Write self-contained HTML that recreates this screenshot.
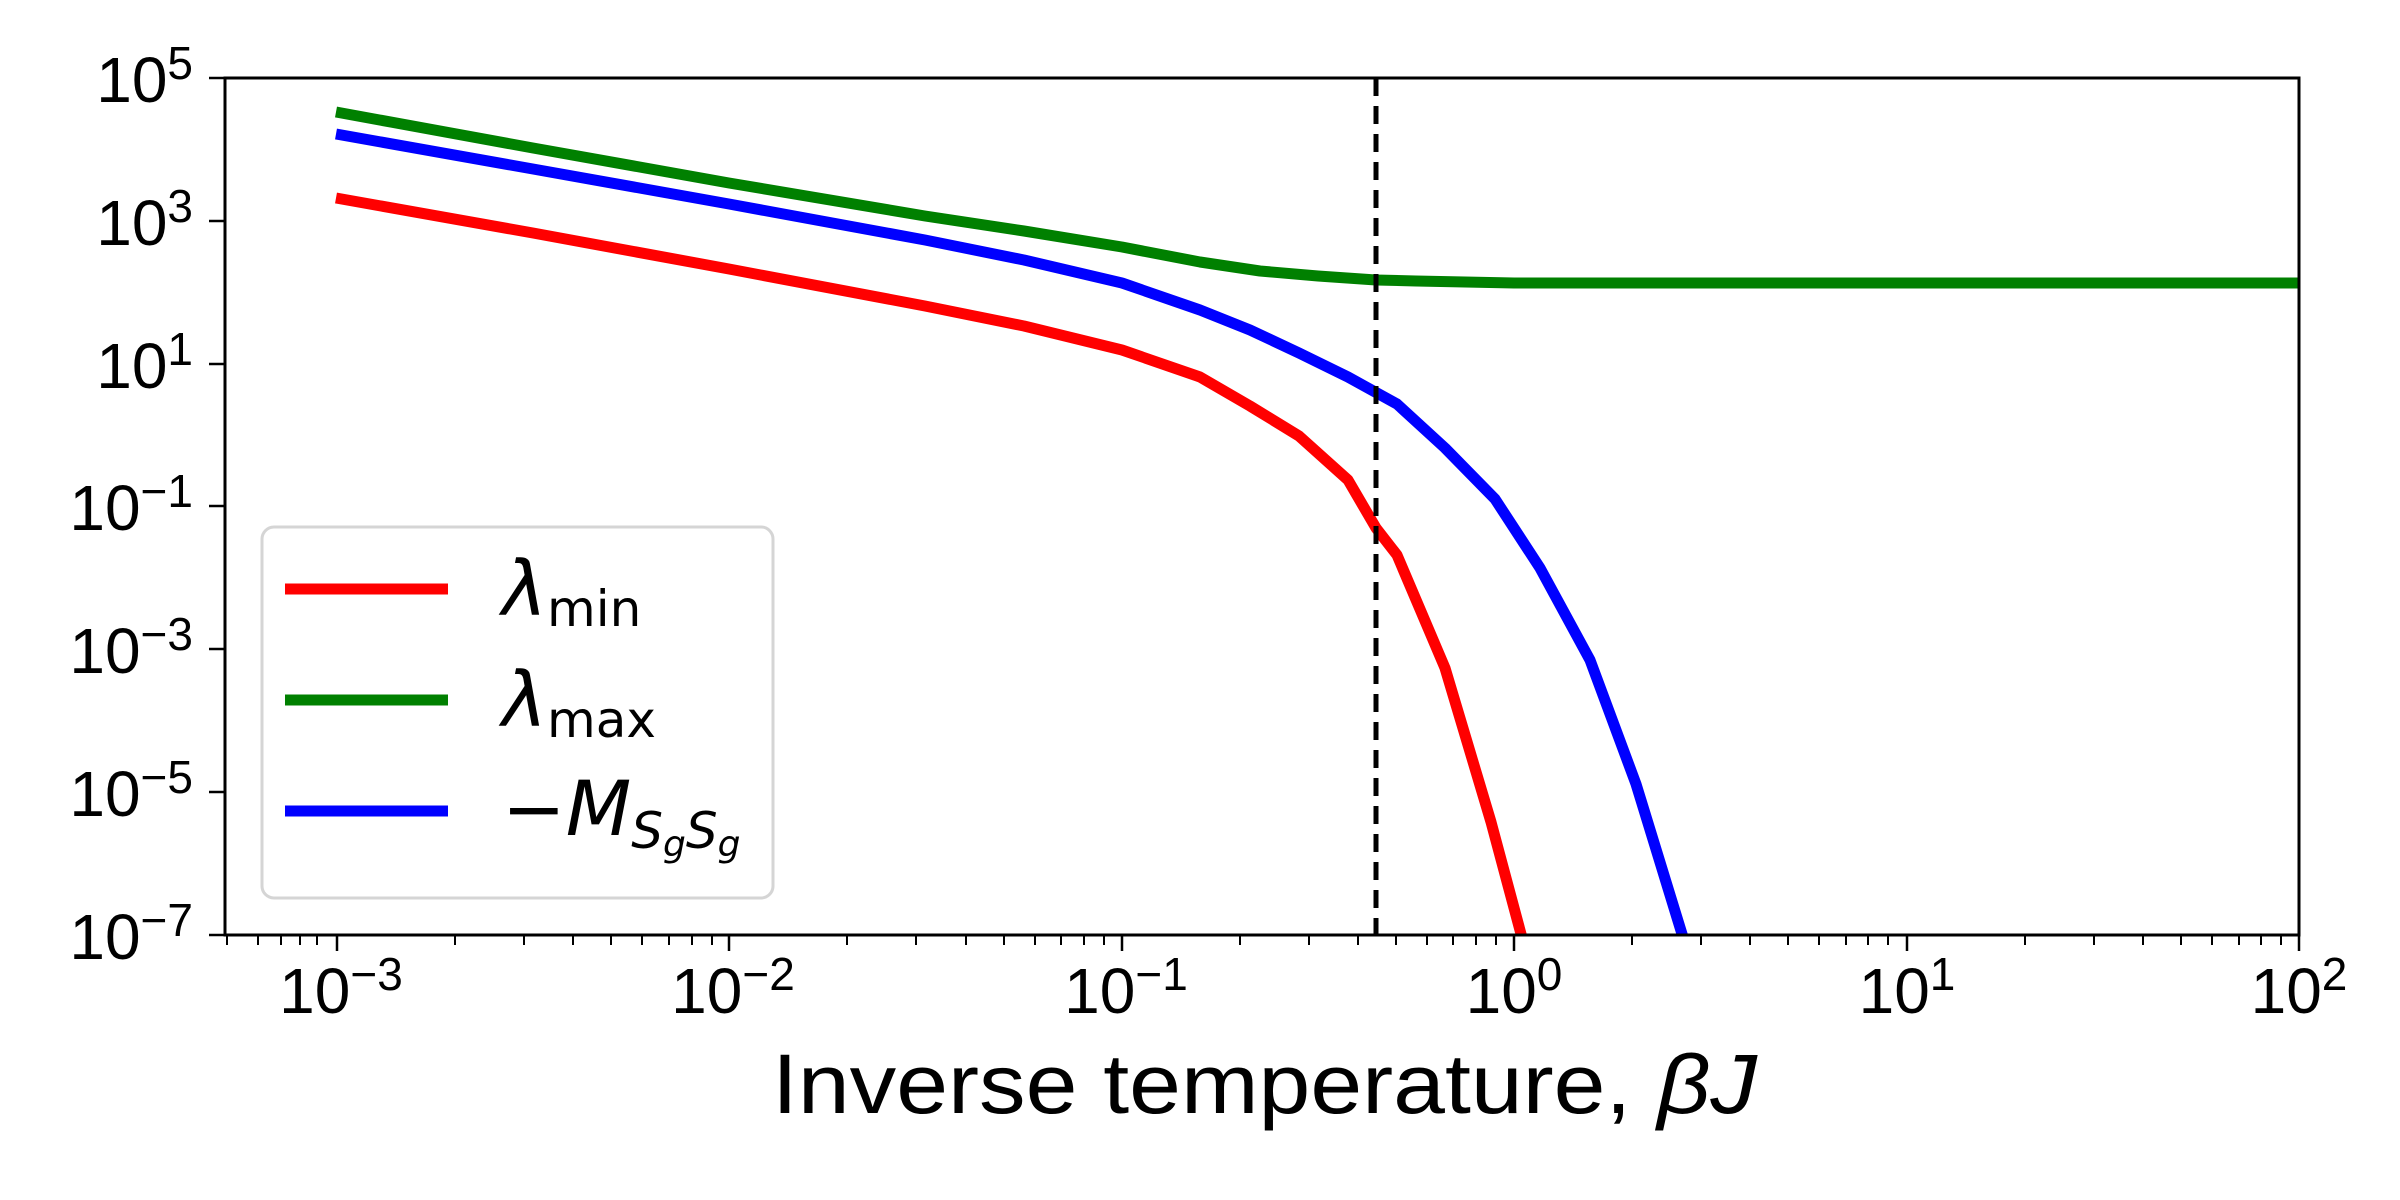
<!DOCTYPE html>
<html><head><meta charset="utf-8"><style>html,body{margin:0;padding:0;background:#fff}svg{display:block}</style></head>
<body>
<svg width="2400" height="1200" viewBox="0 0 2400 1200" xmlns="http://www.w3.org/2000/svg" font-family="DejaVu Sans, Liberation Sans, sans-serif">
<rect width="2400" height="1200" fill="#fff"/>
<defs><clipPath id="c"><rect x="225" y="78" width="2074" height="857"/></clipPath></defs>
<g clip-path="url(#c)" fill="none" stroke-linejoin="round" stroke-width="11">
<polyline stroke="#ff0000" points="336,198 533,233 729,269 925,306 1024,326 1122,350 1200,377 1250,406 1299,436 1348,480 1376,528 1397,555 1445,668 1491,822 1521,934 1525,950"/>
<polyline stroke="#008000" points="336,112 533,148 729,183 925,216 1024,231 1122,247 1200,262 1260,271 1318,276 1376,280 1416,281 1514,283 1710,283 2299,283"/>
<polyline stroke="#0000ff" points="336,134 533,169 729,204 925,240 1024,260 1122,283 1200,310 1250,330 1299,353 1348,377 1397,404 1445,448 1495,499 1540,568 1590,660 1636,784 1682,934 1687,950"/>
<line x1="1376" y1="78" x2="1376" y2="935" stroke="#000" stroke-width="5" stroke-dasharray="18,10"/>
</g>
<rect x="225" y="78" width="2074" height="857" fill="none" stroke="#000" stroke-width="3"/>
<g stroke="#000" stroke-width="2.5">
<line x1="337" y1="935" x2="337" y2="951"/><line x1="729" y1="935" x2="729" y2="951"/><line x1="1122" y1="935" x2="1122" y2="951"/><line x1="1514" y1="935" x2="1514" y2="951"/><line x1="1907" y1="935" x2="1907" y2="951"/><line x1="2299" y1="935" x2="2299" y2="951"/>
<line x1="225" y1="78" x2="209" y2="78"/><line x1="225" y1="221" x2="209" y2="221"/><line x1="225" y1="364" x2="209" y2="364"/><line x1="225" y1="506" x2="209" y2="506"/><line x1="225" y1="649" x2="209" y2="649"/><line x1="225" y1="792" x2="209" y2="792"/><line x1="225" y1="935" x2="209" y2="935"/>
</g>
<g font-size="64" fill="#000" font-family="Liberation Sans, sans-serif">
<text x="193" y="102" text-anchor="end">10<tspan font-size="46" dy="-23">5</tspan></text>
<text x="193" y="245" text-anchor="end">10<tspan font-size="46" dy="-23">3</tspan></text>
<text x="193" y="388" text-anchor="end">10<tspan font-size="46" dy="-23">1</tspan></text>
<text x="193" y="530" text-anchor="end">10<tspan font-size="46" dy="-23">−1</tspan></text>
<text x="193" y="673" text-anchor="end">10<tspan font-size="46" dy="-23">−3</tspan></text>
<text x="193" y="816" text-anchor="end">10<tspan font-size="46" dy="-23">−5</tspan></text>
<text x="193" y="959" text-anchor="end">10<tspan font-size="46" dy="-23">−7</tspan></text>
<text x="341" y="1013" text-anchor="middle">10<tspan font-size="46" dy="-23">−3</tspan></text>
<text x="733" y="1013" text-anchor="middle">10<tspan font-size="46" dy="-23">−2</tspan></text>
<text x="1126" y="1013" text-anchor="middle">10<tspan font-size="46" dy="-23">−1</tspan></text>
<text x="1514" y="1013" text-anchor="middle">10<tspan font-size="46" dy="-23">0</tspan></text>
<text x="1907" y="1013" text-anchor="middle">10<tspan font-size="46" dy="-23">1</tspan></text>
<text x="2299" y="1013" text-anchor="middle">10<tspan font-size="46" dy="-23">2</tspan></text>
</g>
<text x="772" y="1113" font-size="84" fill="#000" font-family="Liberation Sans, sans-serif" textLength="985" lengthAdjust="spacingAndGlyphs">Inverse temperature, <tspan font-style="italic">βJ</tspan></text>
<rect x="262" y="527" width="511" height="371" rx="12" fill="#fff" fill-opacity="0.8" stroke="#d5d5d5" stroke-width="3"/>
<g stroke-width="11"><line x1="285" y1="589" x2="448" y2="589" stroke="#ff0000"/><line x1="285" y1="700" x2="448" y2="700" stroke="#008000"/><line x1="285" y1="811" x2="448" y2="811" stroke="#0000ff"/></g>
<g fill="#000">
<text x="502" y="615" font-size="76" font-style="italic">λ<tspan font-style="normal" font-size="50" dy="11">min</tspan></text>
<text x="502" y="726" font-size="76" font-style="italic">λ<tspan font-style="normal" font-size="50" dy="11">max</tspan></text>
<text x="502" y="835" font-size="76">−<tspan font-style="italic">M</tspan><tspan font-style="italic" font-size="50" dy="13">S</tspan><tspan font-style="italic" font-size="36" dy="8">g</tspan><tspan font-style="italic" font-size="50" dy="-8">S</tspan><tspan font-style="italic" font-size="36" dy="8">g</tspan></text>
</g>
<g stroke="#000" stroke-width="2">
<line x1="227" y1="935" x2="227" y2="945"/><line x1="258" y1="935" x2="258" y2="945"/><line x1="281" y1="935" x2="281" y2="945"/><line x1="300" y1="935" x2="300" y2="945"/><line x1="317" y1="935" x2="317" y2="945"/>
<line x1="455" y1="935" x2="455" y2="945"/><line x1="524" y1="935" x2="524" y2="945"/><line x1="573" y1="935" x2="573" y2="945"/><line x1="611" y1="935" x2="611" y2="945"/><line x1="642" y1="935" x2="642" y2="945"/><line x1="669" y1="935" x2="669" y2="945"/><line x1="692" y1="935" x2="692" y2="945"/><line x1="712" y1="935" x2="712" y2="945"/>
<line x1="847" y1="935" x2="847" y2="945"/><line x1="916" y1="935" x2="916" y2="945"/><line x1="966" y1="935" x2="966" y2="945"/><line x1="1004" y1="935" x2="1004" y2="945"/><line x1="1035" y1="935" x2="1035" y2="945"/><line x1="1061" y1="935" x2="1061" y2="945"/><line x1="1084" y1="935" x2="1084" y2="945"/><line x1="1104" y1="935" x2="1104" y2="945"/>
<line x1="1240" y1="935" x2="1240" y2="945"/><line x1="1309" y1="935" x2="1309" y2="945"/><line x1="1358" y1="935" x2="1358" y2="945"/><line x1="1396" y1="935" x2="1396" y2="945"/><line x1="1427" y1="935" x2="1427" y2="945"/><line x1="1453" y1="935" x2="1453" y2="945"/><line x1="1476" y1="935" x2="1476" y2="945"/><line x1="1496" y1="935" x2="1496" y2="945"/>
<line x1="1632" y1="935" x2="1632" y2="945"/><line x1="1701" y1="935" x2="1701" y2="945"/><line x1="1750" y1="935" x2="1750" y2="945"/><line x1="1788" y1="935" x2="1788" y2="945"/><line x1="1819" y1="935" x2="1819" y2="945"/><line x1="1846" y1="935" x2="1846" y2="945"/><line x1="1868" y1="935" x2="1868" y2="945"/><line x1="1888" y1="935" x2="1888" y2="945"/>
<line x1="2025" y1="935" x2="2025" y2="945"/><line x1="2094" y1="935" x2="2094" y2="945"/><line x1="2143" y1="935" x2="2143" y2="945"/><line x1="2181" y1="935" x2="2181" y2="945"/><line x1="2212" y1="935" x2="2212" y2="945"/><line x1="2239" y1="935" x2="2239" y2="945"/><line x1="2261" y1="935" x2="2261" y2="945"/><line x1="2281" y1="935" x2="2281" y2="945"/>
</g>
</svg>
</body></html>
